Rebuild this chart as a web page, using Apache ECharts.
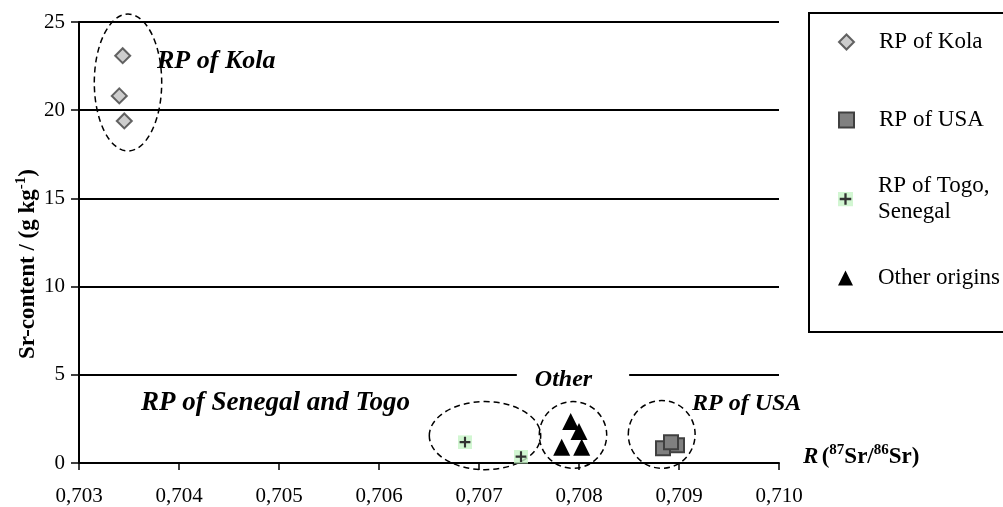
<!DOCTYPE html>
<html><head><meta charset="utf-8">
<script src="https://cdn.jsdelivr.net/npm/echarts@6/dist/echarts.min.js"></script>
<style>html,body{margin:0;padding:0;background:#fff}#c{width:1003px;height:507px}</style>
</head><body><div id="c"></div>
<script>
// ---- data ----
const kola  = [[0.703437,23.09],[0.703403,20.81],[0.703453,19.39]];
const usa   = [[0.70884,0.83],[0.70898,1.00],[0.70892,1.18]];
const togo  = [[0.70686,1.18],[0.70742,0.36]];
const other = [[0.707827,0.89],[0.708027,0.89],[0.708000,1.78],[0.707917,2.35]];
const seriesNames  = ['RP of Kola','RP of USA','RP of Togo, Senegal','Other origins'];
const legendLabels = ['RP of Kola','RP of USA','RP of Togo,\nSenegal','Other origins'];
// group outlines: centre x, centre y, radius x, radius y (data units)
const groupEllipses = [[0.70349,21.57,0.000337,3.88],[0.70706,1.55,0.000557,1.93],[0.70794,1.59,0.000337,1.89],[0.708827,1.62,0.000334,1.92]];
const groupLabels   = ['RP of Kola','RP of Senegal and Togo','Other','RP of USA'];
const groupLabelAt  = [[0.70378,22.78],[0.70631,3.41],[0.70794,4.72],[0.70913,3.35]];
const xMin = 0.703, xMax = 0.710, xStep = 0.001;
const yMin = 0, yMax = 25, yStep = 5;

// ---- styles ----
const FF = '"Liberation Serif","Times New Roman",serif';
const plusSvg = "<svg xmlns='http://www.w3.org/2000/svg' width='13' height='13' viewBox='0 0 13 13'><rect width='13' height='13' fill='#c8f5c8'/><path d='M6.5 1.5v10M1.5 6.5h10' stroke='#000' stroke-width='2'/></svg>";
const plusSymbol = 'image://data:image/svg+xml;charset=utf-8,' + encodeURIComponent(plusSvg);
const labelStyles = [
  {align:'left', font:'italic bold 26px '+FF},
  {align:'right', font:'italic bold 27px '+FF},
  {align:'center', font:'italic bold 24px '+FF, backgroundColor:'#fff', padding:[2,37,2,18]},
  {align:'left', font:'italic bold 24px '+FF}
];
const legendCenters = [42,120,199,278];

const chart = echarts.init(document.getElementById('c'), null, {renderer:'canvas'});
const option = {
  animation:false,
  backgroundColor:'#fff',
  grid:{left:79, right:224, top:22, bottom:44, containLabel:false},
  xAxis:{
    type:'value', min:xMin, max:xMax, interval:xStep,
    name:'{i|R} {b|(}{s|87}{b|Sr/}{s|86}{b|Sr)}', nameLocation:'end', nameGap:24,
    nameTextStyle:{padding:[0,0,12,0], rich:{
      i:{fontFamily:FF, fontSize:23, fontWeight:'bold', fontStyle:'italic', color:'#000', lineHeight:28},
      b:{fontFamily:FF, fontSize:23, fontWeight:'bold', color:'#000', lineHeight:28},
      s:{fontFamily:FF, fontSize:15, fontWeight:'bold', color:'#000', verticalAlign:'top', lineHeight:28}
    }},
    axisLine:{show:true, onZero:false, lineStyle:{color:'#000', width:2}},
    axisTick:{show:true, length:7, lineStyle:{color:'#000', width:1.5}},
    axisLabel:{fontFamily:FF, fontSize:21, color:'#000', margin:23, formatter:v=>v.toFixed(3).replace('.',',')},
    splitLine:{show:false}
  },
  yAxis:{
    type:'value', min:yMin, max:yMax, interval:yStep,
    axisLine:{show:true, lineStyle:{color:'#000', width:2}},
    axisTick:{show:true, length:8, lineStyle:{color:'#000', width:1.5}},
    axisLabel:{fontFamily:FF, fontSize:21, color:'#000', margin:14},
    splitLine:{show:true, lineStyle:{color:'#000', width:2}}
  },
  graphic:[
    {type:'text', x:28, y:264, rotation:Math.PI/2, style:{
      text:'{b|Sr-content / (g kg}{s|-1}{b|)}', align:'center', verticalAlign:'middle',
      rich:{
        b:{fontFamily:FF, fontSize:23, fontWeight:'bold', fill:'#000', color:'#000', lineHeight:28},
        s:{fontFamily:FF, fontSize:15, fontWeight:'bold', fill:'#000', color:'#000', verticalAlign:'top', lineHeight:28}
      }}},
    {type:'rect', shape:{x:809, y:13, width:220, height:319}, style:{fill:'none', stroke:'#000', lineWidth:2}, z:100}
  ],
  legend: seriesNames.map((n,i)=>({
    data:[n], orient:'vertical', left:838,
    top: legendCenters[i] - (i===2 ? 39 : 13),
    itemWidth:15, itemHeight:15, padding:0, selectedMode:false,
    formatter:()=>legendLabels[i],
    textStyle:{fontFamily:FF, fontSize:23, color:'#000', lineHeight:26, padding: i===2 ? [26,0,0,20] : [0,0,0,20]}
  })),
  series:[
    {type:'custom', name:'outlines', data:groupEllipses, encode:{x:0,y:1}, clip:false, silent:true, z:1,
     renderItem:(params, api)=>{
       const c = api.coord([api.value(0), api.value(1)]);
       const s = api.size([api.value(2), api.value(3)]);
       return {type:'ellipse', shape:{cx:c[0], cy:c[1], rx:s[0], ry:s[1]},
               style:{fill:'none', stroke:'#000', lineWidth:1.5, lineDash:[6,4]}};
     }},
    {type:'custom', name:'labels', data:groupLabelAt, encode:{x:0,y:1}, clip:false, silent:true, z:3,
     renderItem:(params, api)=>{
       const i = params.dataIndex;
       const p = api.coord([api.value(0), api.value(1)]);
       return {type:'text', x:p[0], y:p[1], style:Object.assign({
         text:groupLabels[i], fill:'#000', verticalAlign:'middle'}, labelStyles[i])};
     }},
    {type:'scatter', name:seriesNames[0], data:kola, symbol:'diamond', symbolSize:15, z:5,
     itemStyle:{color:'#c0c0c0', borderColor:'#404040', borderWidth:2}},
    {type:'scatter', name:seriesNames[1], data:usa, symbol:'rect', symbolSize:14, z:5,
     itemStyle:{color:'#808080', borderColor:'#404040', borderWidth:2, opacity:1}},
    {type:'scatter', name:seriesNames[2], data:togo, symbol:plusSymbol, symbolSize:14, z:5,
     itemStyle:{color:'#000'}},
    {type:'scatter', name:seriesNames[3], data:other, symbol:'triangle', symbolSize:17, z:5,
     itemStyle:{color:'#000', opacity:1}}
  ]
};
chart.setOption(option);
</script></body></html>
